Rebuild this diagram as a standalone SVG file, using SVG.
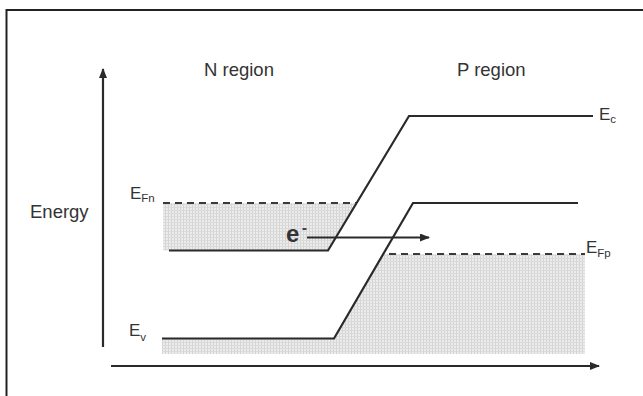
<svg xmlns="http://www.w3.org/2000/svg" width="643" height="396" viewBox="0 0 643 396">
<style>
.t{font-family:"Liberation Sans",Arial,sans-serif;fill:#333}
.band{fill:none;stroke:#2a2a2a;stroke-width:2.2}
.dash{fill:none;stroke:#3a3a3a;stroke-width:2.2;stroke-dasharray:7,5}
.ax{fill:none;stroke:#2a2a2a;stroke-width:2.2}
.shade{fill:url(#dots)}
.lbl{font-size:17px}
.sub{font-size:11.5px}
</style>
<defs>
<pattern id="dots" width="3" height="3" patternUnits="userSpaceOnUse">
<rect width="3" height="3" fill="#ececec"/>
<rect x="0" y="0" width="1" height="3" fill="#d4d4d4"/>
<rect x="0" y="0" width="3" height="1" fill="#dadada"/>
</pattern>
<marker id="ah" markerWidth="10" markerHeight="8" refX="9" refY="4" orient="auto" markerUnits="userSpaceOnUse">
<path d="M0,0 L10,4 L0,8 z" fill="#2a2a2a"/>
</marker>
</defs>
<rect width="643" height="396" fill="#fff"/>
<g id="frame">
<path d="M6.5,400 V10 H643" fill="none" stroke="#222" stroke-width="2"/>
</g>
<g id="shading">
<polygon class="shade" points="163,203 356,203 328,250.5 163,250.5"/>
<polygon class="shade" points="162,338.5 334,338.5 384,254 585,254 585,354 162,354"/>
</g>
<g id="connectors">
<line class="ax" x1="103" y1="347" x2="103" y2="69" marker-end="url(#ah)"/>
<line class="ax" x1="111" y1="366" x2="599" y2="366" marker-end="url(#ah)"/>
<line class="ax" x1="307" y1="237.5" x2="429" y2="237.5" marker-end="url(#ah)"/>
</g>
<g id="Ec">
<polyline class="band" points="169,250.5 328,250.5 409,116 593,116"/>
<text class="t lbl" x="599" y="120">E<tspan class="sub" dy="3">c</tspan></text>
</g>
<g id="Ev">
<polyline class="band" points="162,338.5 334,338.5 413,203 578,203"/>
<text class="t lbl" x="129" y="336">E<tspan class="sub" dy="5">v</tspan></text>
</g>
<g id="EFn">
<line class="dash" x1="163" y1="203" x2="356" y2="203"/>
<text class="t lbl" x="130" y="199">E<tspan class="sub" dy="3">Fn</tspan></text>
</g>
<g id="EFp">
<line class="dash" x1="389" y1="254" x2="585" y2="254"/>
<text class="t lbl" x="586" y="253">E<tspan class="sub" dy="4">Fp</tspan></text>
</g>
<g id="electron">
<text class="t" x="286" y="241.5" font-size="24" font-weight="bold">e</text>
<line x1="302.5" y1="229" x2="306.5" y2="229" stroke="#333" stroke-width="1.8"/>
</g>
<g id="labels">
<text class="t" x="204" y="76" font-size="18.5">N region</text>
<text class="t" x="457" y="76" font-size="18.5">P region</text>
<text class="t" x="30" y="218" font-size="18.5">Energy</text>
</g>
</svg>
